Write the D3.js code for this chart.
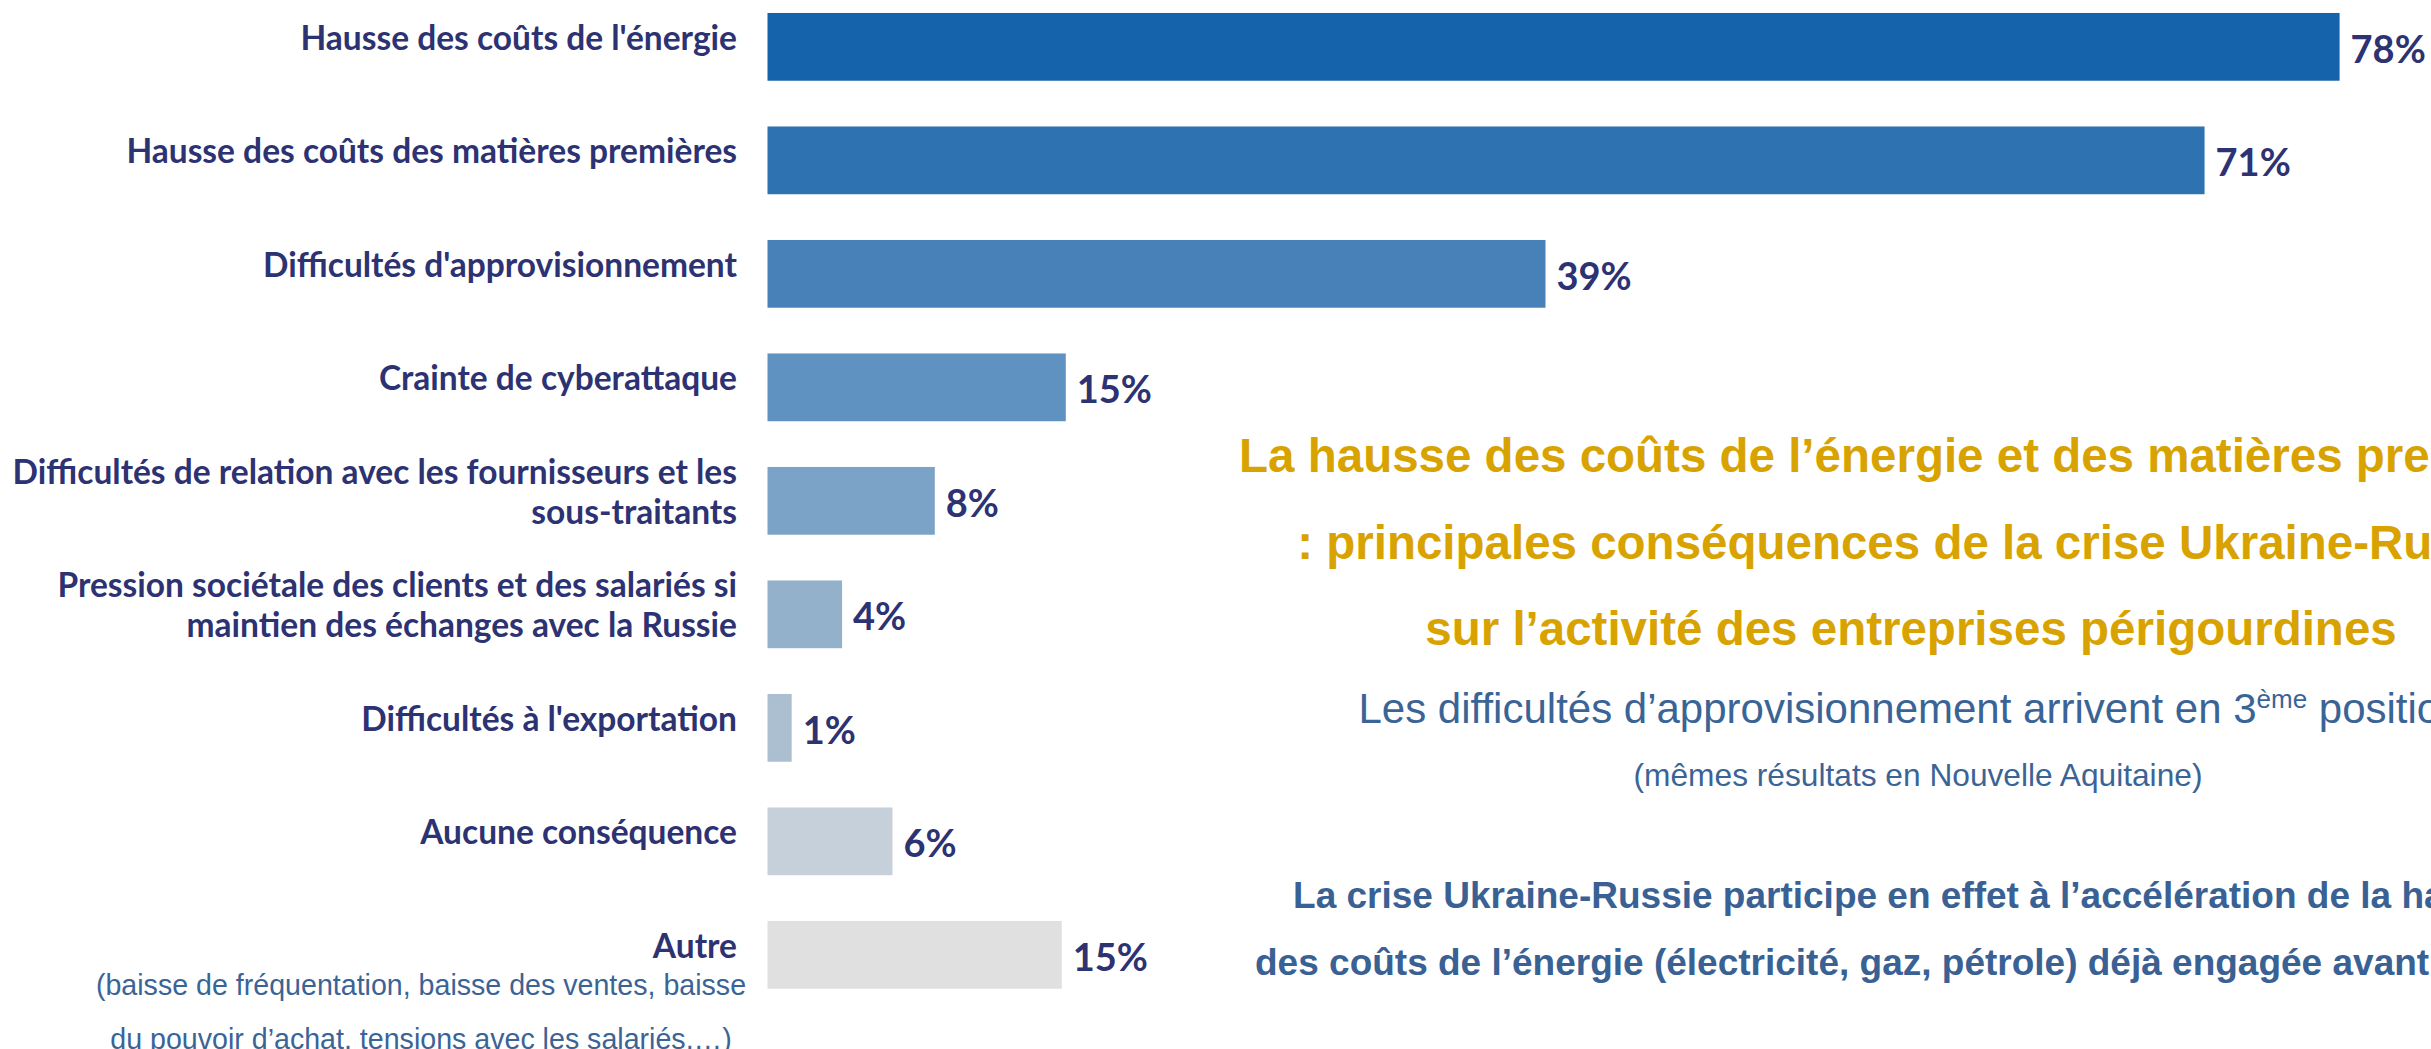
<!DOCTYPE html>
<html>
<head>
<meta charset="utf-8">
<script src="https://cdn.jsdelivr.net/npm/d3@7/dist/d3.min.js"></script>
<style>
    body { margin: 0; background: #fff; }
</style>
</head>
<body>
<div class="chart"></div>
<script>
const width = 2431;
const height = 1049;

// categories, top to bottom ("\n" = line break in the label)
const categories = [
    "Hausse des coûts de l'énergie",
    "Hausse des coûts des matières premières",
    "Difficultés d'approvisionnement",
    "Crainte de cyberattaque",
    "Difficultés de relation avec les fournisseurs et les\nsous-traitants",
    "Pression sociétale des clients et des salariés si\nmaintien des échanges avec la Russie",
    "Difficultés à l'exportation",
    "Aucune conséquence",
    "Autre"
];
// share of companies, %
const values = [78, 71.3, 38.6, 14.8, 8.3, 3.7, 1.2, 6.2, 14.6];
const barColors = ["#1563aa", "#2e72b1", "#4781b7", "#5f92c0", "#7ba2c7",
                   "#94b1cc", "#acbfd1", "#c6d0db", "#e0e0e0"];
const autreNote = [
    "(baisse de fréquentation, baisse des ventes, baisse",
    "du pouvoir d’achat, tensions avec les salariés,…)"
];

const titleLines = [
    "La hausse des coûts de l’énergie et des matières premières",
    ": principales conséquences de la crise Ukraine-Russie",
    "sur l’activité des entreprises périgourdines"
];
const subtitle = ["Les difficultés d’approvisionnement arrivent en 3", "ème", " position"];
const subnote = "(mêmes résultats en Nouvelle Aquitaine)";
const conclusion = [
    "La crise Ukraine-Russie participe en effet à l’accélération de la hausse",
    "des coûts de l’énergie (électricité, gaz, pétrole) déjà engagée avant la crise"
];

const navy = "#2d3272";
const steel = "#3b6496";

const svg = d3.select(".chart")
    .append("svg")
        .attr("width", width)
        .attr("height", height)
        .style("display", "block");

const x = d3.scaleLinear()
    .domain([0, 100])
    .range([767.5, 767.5 + 2015.5]);

const y = d3.scaleBand()
    .domain(categories)
    .range([-9.9, 1011.6])
    .paddingInner(0.403)
    .paddingOuter(0.2015);

const fmt = d => Math.round(d) + "%";

// bars
svg.append("g")
    .selectAll("rect")
    .data(categories)
    .join("rect")
        .attr("x", x(0))
        .attr("y", d => y(d))
        .attr("width", (d, i) => x(values[i]) - x(0))
        .attr("height", y.bandwidth())
        .attr("fill", (d, i) => barColors[i]);

// value labels
svg.append("g")
    .selectAll("text")
    .data(categories)
    .join("text")
        .attr("x", (d, i) => x(values[i]) + 11)
        .attr("y", d => y(d) + y.bandwidth() / 2 + 16)
        .attr("font-family", "Lato, sans-serif")
        .attr("font-weight", 700)
        .attr("font-size", 38)
        .attr("fill", navy)
        .text((d, i) => fmt(values[i]));

// category labels
const labels = svg.append("g")
    .attr("text-anchor", "end")
    .attr("font-family", "Lato, sans-serif")
    .attr("font-weight", 700)
    .attr("font-size", 33.5)
    .attr("fill", navy)
    .selectAll("text")
    .data(categories)
    .join("text")
        .attr("x", 737)
        .attr("y", d => y(d) + y.bandwidth() / 2 + 3);

labels.selectAll("tspan")
    .data(d => {
        const lines = d.split("\n");
        return lines.map((t, j) => ({t, dy: (j - (lines.length - 1) / 2) * 40}));
    })
    .join("tspan")
        .attr("x", 737)
        .attr("dy", (d, j) => j === 0 ? d.dy : 40)
        .text(d => d.t);

// note under "Autre"
svg.append("g")
    .attr("text-anchor", "middle")
    .attr("font-family", "'Liberation Sans', Arial, sans-serif")
    .attr("font-size", 28.6)
    .attr("fill", steel)
    .selectAll("text")
    .data(autreNote)
    .join("text")
        .attr("x", 421)
        .attr("y", (d, i) => y("Autre") + y.bandwidth() / 2 + 40 + i * 54)
        .text(d => d);

// commentary on the right
const cx = 1911;
const txt = svg.append("g")
    .attr("text-anchor", "middle")
    .attr("font-family", "'Liberation Sans', Arial, sans-serif");

txt.selectAll(".title")
    .data(titleLines)
    .join("text")
        .attr("class", "title")
        .attr("x", cx)
        .attr("y", (d, i) => 472 + i * 86.5)
        .attr("font-size", 47.5)
        .attr("font-weight", 700)
        .attr("fill", "#d8a300")
        .text(d => d);

const sub = txt.append("text")
    .attr("x", cx)
    .attr("y", 723)
    .attr("font-size", 42)
    .attr("fill", steel);
sub.append("tspan").text(subtitle[0]);
sub.append("tspan").attr("dy", -15).attr("font-size", 26).text(subtitle[1]);
sub.append("tspan").attr("dy", 15).text(subtitle[2]);

txt.append("text")
    .attr("x", 1918)
    .attr("y", 786)
    .attr("font-size", 31.7)
    .attr("fill", steel)
    .text(subnote);

txt.selectAll(".concl")
    .data(conclusion)
    .join("text")
        .attr("class", "concl")
        .attr("x", cx)
        .attr("y", (d, i) => 908 + i * 67)
        .attr("font-size", 37)
        .attr("font-weight", 700)
        .attr("fill", "#3a6194")
        .text(d => d);
</script>
</body>
</html>
